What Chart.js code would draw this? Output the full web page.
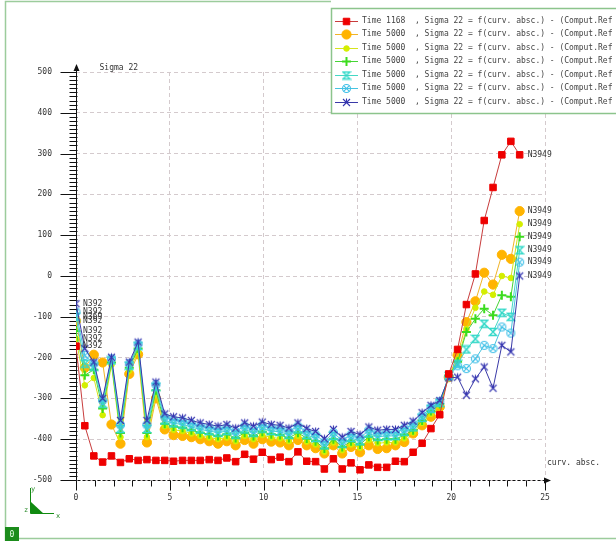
<!DOCTYPE html>
<html><head><meta charset="utf-8">
<script src="https://cdn.jsdelivr.net/npm/chart.js@4/dist/chart.umd.min.js"></script>
<style>html,body{margin:0;padding:0;background:#fff;overflow:hidden}canvas{display:block}</style>
</head><body>
<canvas id="c" width="616" height="541"></canvas>
<script>
// curvilinear abscissa of the nodes
const xs = [0, 0.47, 0.95, 1.42, 1.89, 2.37, 2.84, 3.31, 3.78, 4.26, 4.73, 5.2, 5.68, 6.15, 6.62, 7.1, 7.57, 8.04, 8.51, 8.99, 9.46, 9.93, 10.41, 10.88, 11.35, 11.83, 12.3, 12.77, 13.24, 13.72, 14.19, 14.66, 15.14, 15.61, 16.08, 16.56, 17.03, 17.5, 17.97, 18.45, 18.92, 19.39, 19.87, 20.34, 20.81, 21.29, 21.76, 22.23, 22.7, 23.18, 23.65];

const sRed = [-172, -367, -441, -456, -441, -457, -448, -452, -450, -452, -452, -454, -452, -452, -452, -450, -452, -446, -455, -437, -449, -432, -450, -444, -455, -431, -454, -455, -473, -448, -473, -458, -475, -463, -469, -469, -454, -455, -432, -410, -374, -340, -240, -180, -70, 5, 136, 217, 297, 330, 297];
const sOrange = [-110, -225, -193, -212, -364, -411, -240, -192, -408, -300, -376, -390, -392, -395, -400, -405, -411, -405, -415, -402, -411, -400, -406, -408, -415, -402, -415, -422, -435, -415, -435, -419, -432, -415, -424, -422, -415, -407, -386, -366, -345, -321, -248, -194, -113, -62, 8, -21, 52, 42, 159];
const sYellow = [-154, -268, -250, -341, -218, -395, -232, -185, -395, -290, -368, -377, -380, -386, -392, -396, -400, -396, -405, -392, -400, -390, -396, -398, -405, -392, -406, -413, -431, -408, -427, -413, -421, -402, -410, -408, -408, -398, -384, -360, -338, -318, -245, -205, -130, -78, -38, -46, 0, -5, 127];
const sGreen = [-135, -243, -230, -325, -212, -385, -225, -178, -385, -280, -362, -369, -372, -378, -384, -388, -392, -388, -397, -384, -392, -382, -388, -390, -397, -384, -398, -405, -423, -400, -419, -405, -413, -394, -402, -400, -400, -390, -378, -354, -331, -314, -245, -210, -137, -105, -80, -96, -47, -51, 96];
const sCyan = [-100, -215, -222, -313, -207, -375, -220, -172, -375, -272, -354, -361, -364, -370, -376, -380, -384, -380, -389, -376, -384, -374, -380, -382, -389, -376, -390, -397, -415, -392, -411, -397, -405, -386, -394, -392, -392, -382, -371, -348, -326, -311, -245, -215, -180, -154, -117, -137, -90, -100, 63];
const sLtBlue = [-88, -195, -215, -305, -203, -365, -215, -167, -365, -266, -346, -353, -356, -362, -368, -372, -376, -372, -381, -368, -376, -366, -372, -374, -381, -368, -382, -389, -407, -384, -403, -389, -397, -378, -386, -384, -384, -374, -364, -342, -322, -308, -247, -220, -227, -203, -170, -178, -125, -140, 34];
const sBlue = [-68, -178, -211, -300, -199, -354, -211, -162, -354, -260, -338, -345, -348, -354, -360, -364, -368, -364, -373, -360, -368, -358, -364, -366, -373, -360, -374, -381, -399, -376, -395, -381, -389, -370, -378, -376, -376, -366, -356, -335, -317, -305, -250, -248, -292, -252, -223, -275, -170, -186, 0];

const seriesTimes = ['Time 1168', 'Time 5000', 'Time 5000', 'Time 5000', 'Time 5000', 'Time 5000', 'Time 5000'];
const startLabels = ['N392', 'N392', 'N392', 'N392', 'N369', 'N392', 'N392'];
const endLabels = ['N3949', 'N3949', 'N3949', 'N3949', 'N3949', 'N3949', 'N3949'];
const xTickValues = [0, 5, 10, 15, 20, 25];
const yTickValues = [-500, -400, -300, -200, -100, 0, 100, 200, 300, 400, 500];
const xTitle = 'curv. absc.';
const yTitle = 'Sigma 22';
const legendSuffix = '  , Sigma 22 = f(curv. absc.) - (Comput.Ref Geom)';

const FONT = '8px "DejaVu Sans Mono"';

function mk(size, draw) {
  const c = document.createElement('canvas');
  c.width = size; c.height = size;
  const g = c.getContext('2d');
  g.translate(size / 2, size / 2);
  draw(g);
  return c;
}
const hourglass = (col) => mk(10, g => {
  g.strokeStyle = col; g.lineWidth = 1.3;
  g.beginPath();
  g.moveTo(-3.5, -3.5); g.lineTo(3.5, -3.5); g.lineTo(-3.5, 3.5); g.lineTo(3.5, 3.5); g.closePath();
  g.stroke();
});
const circX = (col) => mk(11, g => {
  g.strokeStyle = col; g.lineWidth = 1.1;
  g.beginPath(); g.arc(0, 0, 4, 0, Math.PI * 2); g.stroke();
  g.beginPath(); g.moveTo(-2.8, -2.8); g.lineTo(2.8, 2.8); g.moveTo(2.8, -2.8); g.lineTo(-2.8, 2.8); g.stroke();
});
const starX = (col) => mk(11, g => {
  g.strokeStyle = col; g.lineWidth = 1.1;
  g.beginPath(); g.moveTo(-3.5, -3.5); g.lineTo(3.5, 3.5); g.moveTo(3.5, -3.5); g.lineTo(-3.5, 3.5);
  g.moveTo(0, -4); g.lineTo(0, 0); g.stroke();
});

const styles = [
  { line: '#c83c3c', pt: '#ee0000', style: 'rect', r: 4.6, bw: 1 },
  { line: '#f0b428', pt: '#ffb400', style: 'circle', r: 4.6, bw: 1 },
  { line: '#d6e41c', pt: '#d4ee00', style: 'circle', r: 2.8, bw: 1 },
  { line: '#46d436', pt: '#3cdc1e', style: 'cross', r: 4.5, bw: 2 },
  { line: '#44d8c4', pt: '#38e0c8', style: hourglass('#30d8c8'), r: 4, bw: 1 },
  { line: '#46c4e0', pt: '#40c0e8', style: circX('#40c0e8'), r: 4, bw: 1 },
  { line: '#3a3aa8', pt: '#3434b0', style: starX('#3434b0'), r: 4, bw: 1 }
];
const allSeries = [sRed, sOrange, sYellow, sGreen, sCyan, sLtBlue, sBlue];
const drawOrder = [0, 6, 5, 4, 3, 2, 1]; // chart.js: lower order drawn on top

const datasets = allSeries.map((s, k) => ({
  label: seriesTimes[k],
  data: xs.map((x, i) => ({ x: x, y: s[i] })),
  showLine: true,
  borderColor: styles[k].line,
  borderWidth: 1,
  backgroundColor: styles[k].pt,
  pointBackgroundColor: styles[k].pt,
  pointBorderColor: styles[k].pt,
  pointBorderWidth: styles[k].bw,
  pointStyle: styles[k].style,
  pointRadius: styles[k].r,
  tension: 0,
  order: drawOrder[k]
}));

const decor = {
  id: 'decor',
  beforeDraw(chart) {
    const ctx = chart.ctx;
    ctx.save(); ctx.fillStyle = '#fff'; ctx.fillRect(0, 0, chart.width, chart.height); ctx.restore();
  },
  beforeDatasetsDraw(chart) {
    const ctx = chart.ctx, xS = chart.scales.x, yS = chart.scales.y;
    const x0 = Math.round(xS.getPixelForValue(0)) + 0.5;
    const yb = Math.round(yS.getPixelForValue(-500)) + 0.5;
    const yt = yS.getPixelForValue(500);
    const xr = xS.getPixelForValue(25);
    ctx.save();
    ctx.strokeStyle = '#111'; ctx.fillStyle = '#111'; ctx.lineWidth = 1;
    // y ruler
    ctx.beginPath(); ctx.moveTo(x0, yb); ctx.lineTo(x0, yt - 4); ctx.stroke();
    for (let v = -500; v <= 500; v += 10) {
      const y = Math.round(yS.getPixelForValue(v)) + 0.5;
      ctx.beginPath();
      if (v % 100 === 0) { ctx.moveTo(x0 - 16, y); ctx.lineTo(x0, y); }
      else { ctx.moveTo(x0 - 7, y); ctx.lineTo(x0 + 1, y); }
      ctx.stroke();
    }
    ctx.beginPath(); ctx.moveTo(x0, yt - 8); ctx.lineTo(x0 - 3, yt - 1); ctx.lineTo(x0 + 3, yt - 1); ctx.closePath(); ctx.fill();
    // x axis
    ctx.setLineDash([3, 2]);
    ctx.beginPath(); ctx.moveTo(x0 - 14, yb); ctx.lineTo(xr + 2, yb); ctx.stroke();
    ctx.setLineDash([]);
    for (let u = 0; u <= 25; u++) {
      const x = Math.round(xS.getPixelForValue(u)) + 0.5;
      ctx.beginPath(); ctx.moveTo(x, yb); ctx.lineTo(x, yb + (u % 5 === 0 ? 10 : 6)); ctx.stroke();
    }
    ctx.beginPath(); ctx.moveTo(xr + 6, yb); ctx.lineTo(xr - 1, yb - 3); ctx.lineTo(xr - 1, yb + 3); ctx.closePath(); ctx.fill();
    // axis titles
    ctx.font = FONT; ctx.fillStyle = '#333'; ctx.textBaseline = 'middle'; ctx.textAlign = 'left';
    ctx.fillText(yTitle, x0 + 23, yt - 4);
    ctx.fillText(xTitle, xr + 2, yS.getPixelForValue(-500) - 17);
    ctx.restore();
  },
  afterDraw(chart) {
    const ctx = chart.ctx, xS = chart.scales.x, yS = chart.scales.y;
    ctx.save();
    ctx.font = FONT; ctx.fillStyle = '#333'; ctx.textBaseline = 'middle'; ctx.textAlign = 'left';
    allSeries.forEach((s, k) => {
      ctx.fillText(startLabels[k], xS.getPixelForValue(xs[0]) + 7, yS.getPixelForValue(s[0]));
      ctx.fillText(endLabels[k], xS.getPixelForValue(xs[xs.length - 1]) + 8, yS.getPixelForValue(s[s.length - 1]));
    });
    // legend
    const lx = 331, ly = 8;
    ctx.fillStyle = '#fff'; ctx.fillRect(lx, ly, 300, 106);
    ctx.strokeStyle = '#8cc48c'; ctx.lineWidth = 1.5;
    ctx.strokeRect(lx + 0.5, ly + 0.5, 300, 105);
    allSeries.forEach((s, k) => {
      const y = ly + 12.5 + k * 13.5;
      const st = styles[k];
      const yy = Math.round(y) + 0.5;
      ctx.strokeStyle = st.line; ctx.lineWidth = 1;
      ctx.beginPath(); ctx.moveTo(lx + 4, yy); ctx.lineTo(lx + 27, yy); ctx.stroke();
      ctx.fillStyle = st.pt; ctx.strokeStyle = st.pt; ctx.lineWidth = st.bw;
      Chart.helpers.drawPoint(ctx, { pointStyle: st.style, radius: st.r, borderWidth: st.bw, rotation: 0 }, lx + 15.5, yy);
      ctx.fillStyle = '#444';
      ctx.fillText(seriesTimes[k] + legendSuffix, lx + 31, y);
    });
    // outer frame
    ctx.strokeStyle = '#9ccc9c'; ctx.lineWidth = 1.5;
    ctx.beginPath();
    ctx.moveTo(5.5, 541); ctx.lineTo(5.5, 1.5); ctx.lineTo(331, 1.5);
    ctx.moveTo(5.5, 538.5); ctx.lineTo(616, 538.5);
    ctx.stroke();
    // green "0" box
    ctx.fillStyle = '#1c8c1c'; ctx.fillRect(5, 527, 14, 14);
    ctx.fillStyle = '#e8ffe8'; ctx.textAlign = 'center'; ctx.fillText('0', 12, 534.5);
    // triad
    ctx.strokeStyle = '#108a10'; ctx.fillStyle = '#108a10'; ctx.lineWidth = 1;
    ctx.beginPath(); ctx.moveTo(30.5, 488); ctx.lineTo(30.5, 513.5); ctx.lineTo(54, 513.5); ctx.stroke();
    ctx.beginPath(); ctx.moveTo(31, 502); ctx.lineTo(31, 514); ctx.lineTo(44, 514); ctx.closePath(); ctx.fill();
    ctx.font = '7px "DejaVu Sans Mono"'; ctx.fillStyle = '#2a8a2a';
    ctx.fillText('y', 33, 489); ctx.fillText('x', 58, 516); ctx.fillText('z', 26, 510);
    ctx.restore();
  }
};

const gridCol = '#d4cacd';
new Chart(document.getElementById('c'), {
  type: 'scatter',
  data: { datasets: datasets },
  options: {
    responsive: false, animation: false, devicePixelRatio: 1,
    layout: { padding: { left: 0, top: 72, right: 71, bottom: 0 } },
    plugins: { legend: { display: false }, tooltip: { enabled: false } },
    scales: {
      x: {
        type: 'linear', min: 0, max: 25,
        afterBuildTicks(sc) { sc.ticks = xTickValues.map(v => ({ value: v })); },
        afterFit(sc) { sc.height = 61; },
        grid: { color: gridCol, drawTicks: false, lineWidth: 1 },
        border: { display: false, dash: [4, 3] },
        ticks: { padding: 13, font: { family: 'DejaVu Sans Mono', size: 8 }, color: '#333', maxRotation: 0 }
      },
      y: {
        type: 'linear', min: -500, max: 500,
        afterBuildTicks(sc) { sc.ticks = yTickValues.map(v => ({ value: v })); },
        afterFit(sc) { sc.width = 76; },
        grid: { color: gridCol, drawTicks: false, lineWidth: 1 },
        border: { display: false, dash: [4, 3] },
        ticks: { padding: 24, font: { family: 'DejaVu Sans Mono', size: 8 }, color: '#333' }
      }
    }
  },
  plugins: [decor]
});
</script>
</body></html>
